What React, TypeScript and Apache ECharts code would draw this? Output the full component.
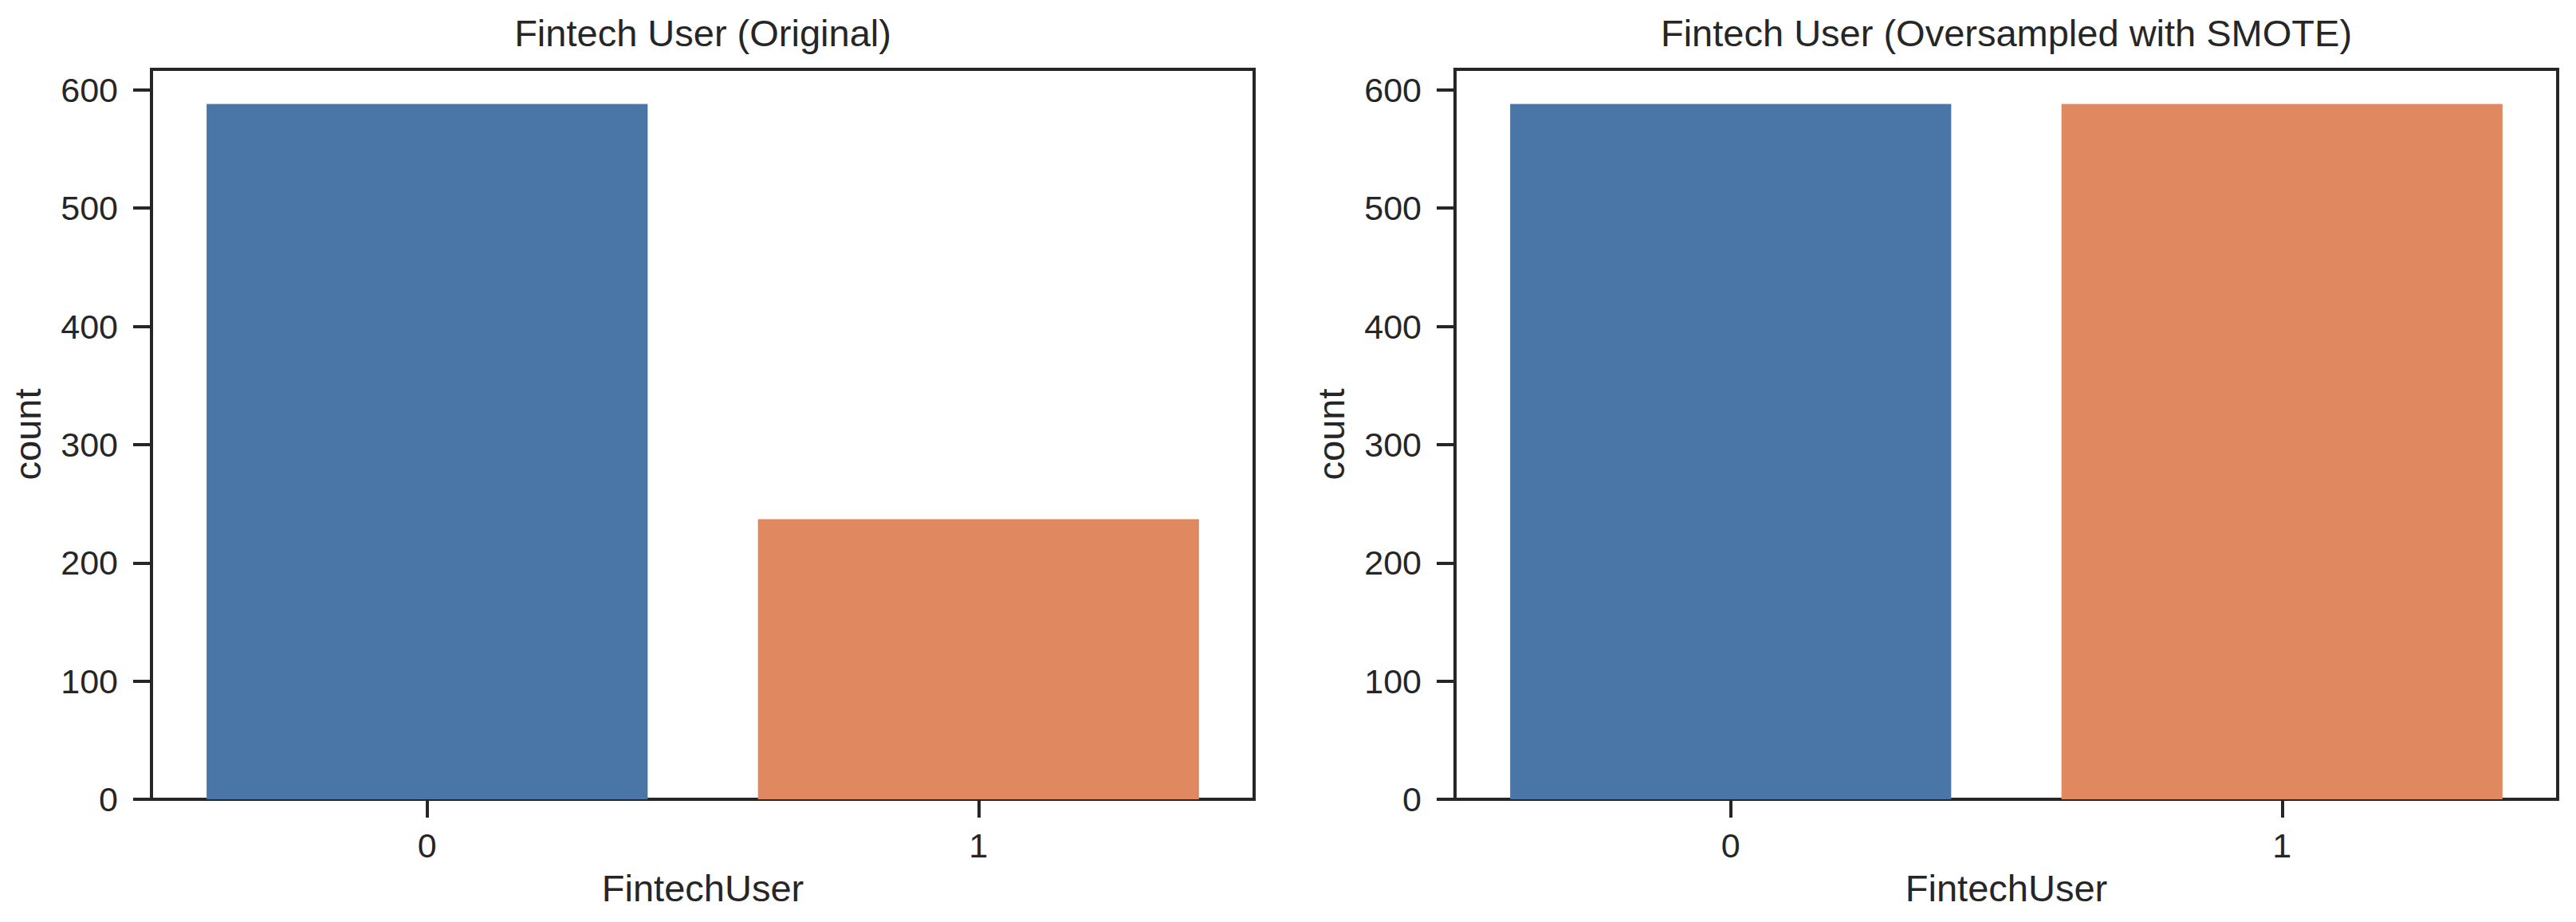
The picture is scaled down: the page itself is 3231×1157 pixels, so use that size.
import React, { useEffect, useRef } from "react";
import * as echarts from "echarts";

const categories = ["0", "1"];
const originalCounts = [588, 237];
const smoteCounts = [588, 588];
const yTicks = [0, 100, 200, 300, 400, 500, 600];
const titles = ["Fintech User (Original)", "Fintech User (Oversampled with SMOTE)"];
const barColors = ["#4a75a7", "#e0885f"];
const xName = "FintechUser";
const yName = "count";

const FONT = "Liberation Sans, Arial, Helvetica, sans-serif";
const INK = "#262626";

export default function App() {
  const ref = useRef<HTMLDivElement>(null);
  useEffect(() => {
    if (!ref.current) return;
    const chart = echarts.init(ref.current, undefined, { renderer: "svg" });
    const panels = [originalCounts, smoteCounts];
    const lefts = [190, 1825];
    const plotW = 1383;
    const top = 87;
    const plotH = 916;
    const yMax = Math.max(...originalCounts, ...smoteCounts) * 1.05;

    const grids = lefts.map((l) => ({
      left: l,
      top,
      width: plotW,
      height: plotH,
      show: true,
      borderColor: INK,
      borderWidth: 4,
      backgroundColor: "transparent",
      containLabel: false,
    }));

    const xAxes = panels.map((_, i) => ({
      type: "category",
      gridIndex: i,
      data: categories,
      boundaryGap: true,
      name: xName,
      nameLocation: "middle",
      nameGap: 88,
      nameTextStyle: { fontSize: 47, color: INK, fontFamily: FONT },
      axisLine: { show: true, lineStyle: { color: INK, width: 4 } },
      axisTick: { show: true, alignWithLabel: true, length: 23, lineStyle: { color: INK, width: 4 } },
      axisLabel: { fontSize: 43, color: INK, fontFamily: FONT, margin: 36 },
      splitLine: { show: false },
    }));

    const yAxes = panels.map((_, i) => ({
      type: "value",
      gridIndex: i,
      min: 0,
      max: yMax,
      interval: 100,
      name: yName,
      nameLocation: "middle",
      nameGap: 132,
      nameRotate: 90,
      nameTextStyle: { fontSize: 47, color: INK, fontFamily: FONT },
      axisLine: { show: true, lineStyle: { color: INK, width: 4 } },
      axisTick: { show: true, length: 23, lineStyle: { color: INK, width: 4 }, customValues: yTicks },
      axisLabel: { fontSize: 43, color: INK, fontFamily: FONT, margin: 42, customValues: yTicks },
      splitLine: { show: false },
    }));

    const series = panels.map((vals, i) => ({
      type: "bar",
      xAxisIndex: i,
      yAxisIndex: i,
      barCategoryGap: "20%",
      data: vals.map((v, j) => ({ value: v, itemStyle: { color: barColors[j] } })),
      z: 1,
    }));

    chart.setOption({
      animation: false,
      backgroundColor: "#ffffff",
      textStyle: { fontFamily: FONT },
      title: titles.map((t, i) => ({
        text: t,
        left: lefts[i] + plotW / 2,
        top: 18,
        textAlign: "center",
        padding: 0,
        textStyle: { fontSize: 47, fontWeight: "normal", color: INK, fontFamily: FONT },
      })),
      grid: grids,
      xAxis: xAxes,
      yAxis: yAxes,
      series,
    });
    return () => chart.dispose();
  }, []);
  return (
    <div
      ref={ref}
      style={{ position: "fixed", left: 0, top: 0, width: 3231, height: 1157, background: "#fff" }}
    />
  );
}
